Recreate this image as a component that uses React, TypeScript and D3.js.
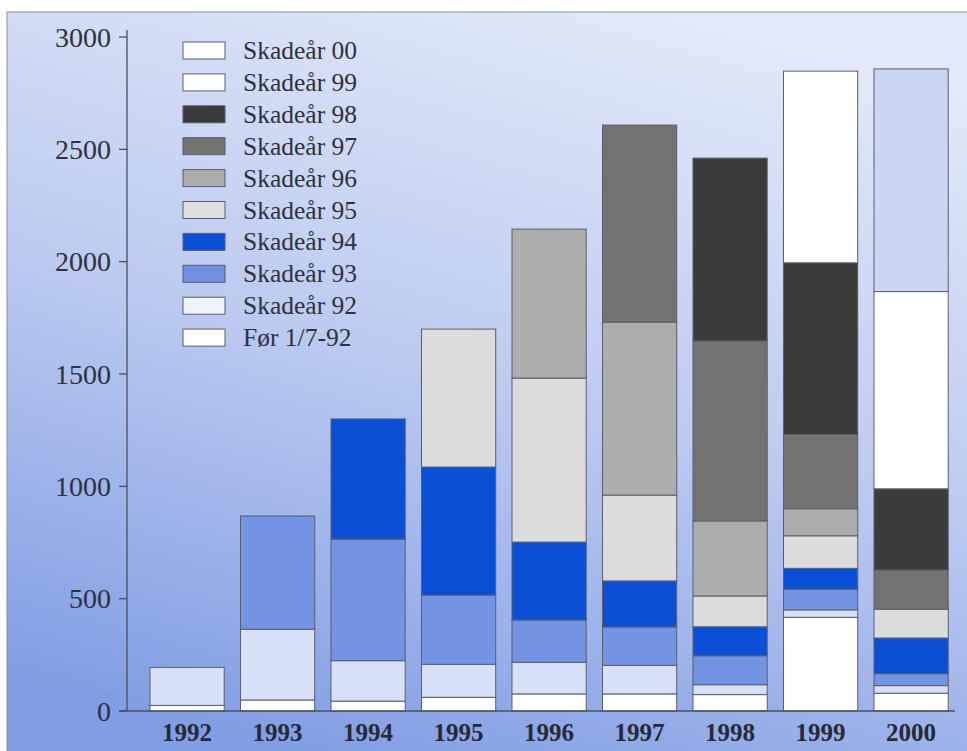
import React from "react";
import * as d3 from "d3";

// Reporting years along the x axis
const years = ["1992", "1993", "1994", "1995", "1996", "1997", "1998", "1999", "2000"];

// Claims by claim year (stacked bottom to top), one value per reporting year
const forJuli92 = [25, 49, 44, 61, 76, 76, 73, 417, 79];
const skade92 = [169, 315, 180, 147, 141, 127, 44, 33, 34];
const skade93 = [0, 504, 541, 308, 188, 171, 129, 92, 53];
const skade94 = [0, 0, 535, 570, 347, 205, 129, 93, 159];
const skade95 = [0, 0, 0, 614, 730, 382, 137, 145, 128];
const skade96 = [0, 0, 0, 0, 663, 770, 334, 120, 0];
const skade97 = [0, 0, 0, 0, 0, 877, 801, 331, 175];
const skade98 = [0, 0, 0, 0, 0, 0, 814, 764, 361];
const skade99 = [0, 0, 0, 0, 0, 0, 0, 853, 878];
const skade00 = [0, 0, 0, 0, 0, 0, 0, 0, 991];

const seriesKeys = ["f", "s92", "s93", "s94", "s95", "s96", "s97", "s98", "s99", "s00"];
const seriesNames = [
  "Før 1/7-92",
  "Skadeår 92",
  "Skadeår 93",
  "Skadeår 94",
  "Skadeår 95",
  "Skadeår 96",
  "Skadeår 97",
  "Skadeår 98",
  "Skadeår 99",
  "Skadeår 00",
];
const seriesValues = [forJuli92, skade92, skade93, skade94, skade95, skade96, skade97, skade98, skade99, skade00];
const barFills = ["#ffffff", "#d7e0f6", "#7393e3", "#0b4fd6", "#dcdcdc", "#adadad", "#727272", "#3b3b3b", "#ffffff", "#cad6f4"];
const legendFills = ["#ffffff", "#eef2fb", "#6f90e2", "#0b4fd6", "#dedede", "#adadad", "#727272", "#3b3b3b", "#ffffff", "#fdfdfd"];

const yTicks = [0, 500, 1000, 1500, 2000, 2500, 3000];

const W = 967;
const H = 751;
const SERIF = "'Liberation Serif', 'DejaVu Serif', serif";

export default function App() {
  const rows = years.map((yr, i) => {
    const r: Record<string, any> = { year: yr };
    seriesKeys.forEach((k, j) => (r[k] = seriesValues[j][i]));
    return r;
  });
  const stacked = d3.stack<any>().keys(seriesKeys)(rows);

  const x = d3.scaleBand<string>().domain(years).range([141.85, 956.35]).paddingInner(0.18).paddingOuter(0.09);
  const y = d3.scaleLinear().domain([0, 3000]).range([711, 37]);

  const axisX = 127;
  const legendX = 183;
  const legendY0 = 42;
  const legendStep = 31.9;
  const legendOrder = d3.range(seriesKeys.length).reverse();

  return (
    <div style={{ position: "absolute", left: 0, top: 0 }}>
      <svg width={W} height={H} style={{ display: "block" }}>
        <defs>
          <linearGradient id="bg" x1="0.68" y1="0" x2="0.32" y2="1">
            <stop offset="0" stopColor="#e3e9f8" />
            <stop offset="0.5" stopColor="#bccaf1" />
            <stop offset="1" stopColor="#819de3" />
          </linearGradient>
        </defs>
        <rect x={0} y={0} width={W} height={H} fill="#ffffff" />
        <rect x={7} y={12} width={W} height={H} fill="url(#bg)" stroke="#8a8f9c" strokeWidth={1} />

        {/* stacked bars */}
        {stacked.map((layer, j) => (
          <g key={layer.key}>
            {layer.map((d: any, i: number) => {
              const h = y(d[0]) - y(d[1]);
              if (h <= 0) return null;
              return (
                <rect
                  key={i}
                  x={x(years[i])}
                  y={y(d[1])}
                  width={x.bandwidth()}
                  height={h}
                  fill={barFills[j]}
                  stroke="#5a5f6e"
                  strokeWidth={1}
                />
              );
            })}
          </g>
        ))}

        {/* y axis */}
        <line x1={axisX} x2={axisX} y1={30} y2={y(0)} stroke="#4b5060" strokeWidth={1.3} />
        {yTicks.map((t) => (
          <g key={t}>
            <line x1={axisX - 8} x2={axisX} y1={y(t)} y2={y(t)} stroke="#4b5060" strokeWidth={1.3} />
            <text
              x={axisX - 16}
              y={y(t)}
              dy="0.35em"
              textAnchor="end"
              fontFamily={SERIF}
              fontSize={28}
              fill="#2d3140"
            >
              {t}
            </text>
          </g>
        ))}

        {/* x axis */}
        <line x1={axisX - 8} x2={955} y1={y(0)} y2={y(0)} stroke="#4b5060" strokeWidth={1.3} />
        {years.map((yr) => (
          <text
            key={yr}
            x={(x(yr) as number) + x.bandwidth() / 2}
            y={741}
            textAnchor="middle"
            fontFamily={SERIF}
            fontWeight="bold"
            fontSize={25}
            fill="#252a38"
          >
            {yr}
          </text>
        ))}

        {/* legend */}
        {legendOrder.map((j, r) => {
          const ly = legendY0 + r * legendStep;
          return (
            <g key={seriesKeys[j]}>
              <rect x={legendX} y={ly} width={42} height={17} fill={legendFills[j]} stroke="#5a5f6e" strokeWidth={1} />
              <text x={243} y={ly + 17} fontFamily={SERIF} fontSize={25.5} fill="#2d3140">
                {seriesNames[j]}
              </text>
            </g>
          );
        })}
      </svg>
    </div>
  );
}
